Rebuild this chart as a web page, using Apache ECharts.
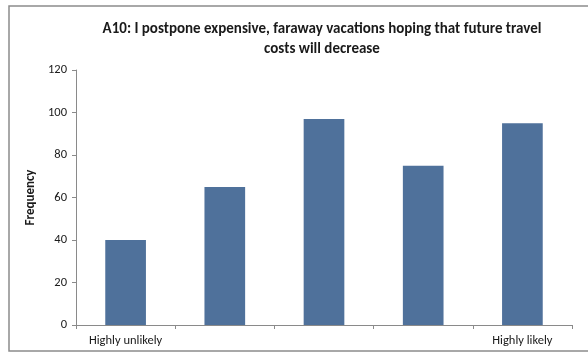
<!DOCTYPE html>
<html>
<head>
<meta charset="utf-8">
<script src="https://cdn.jsdelivr.net/npm/echarts@6/dist/echarts.min.js"></script>
<style>
  html, body { margin: 0; padding: 0; background: #fff; }
  #chart { width: 588px; height: 358px; }
</style>
</head>
<body>
<div id="chart"></div>
<script>
// Response scale categories (only the two ends are labelled)
const categories = ['Highly unlikely', '', '', '', 'Highly likely'];
// Number of respondents per scale point
const frequency = [40, 65, 97, 75, 95];
// Value axis ticks
const yTicks = [0, 20, 40, 60, 80, 100, 120];

const chart = echarts.init(document.getElementById('chart'), null, { renderer: 'canvas' });

const font = 'Calibri, Carlito, Lato, "Open Sans", sans-serif';

chart.setOption({
  animation: false,
  backgroundColor: '#ffffff',
  title: {
    text: 'A10: I postpone expensive, faraway vacations hoping that future travel\ncosts will decrease',
    left: 317,
    top: 14,
    textAlign: 'center',
    textStyle: {
      fontFamily: font,
      fontSize: 15,
      fontWeight: 'bold',
      color: '#1a1a1a',
      lineHeight: 20
    }
  },
  graphic: [{
    type: 'rect',
    shape: { x: 9, y: 6, width: 590, height: 345 },
    style: { fill: 'none', stroke: '#8c8c8c', lineWidth: 1.5 },
    silent: true,
    z: -1
  }],
  grid: { left: 76, right: 16, top: 70, bottom: 33 },
  xAxis: {
    type: 'category',
    data: categories,
    axisLine: { lineStyle: { color: '#8a8a8a', width: 1 } },
    axisTick: { show: true, alignWithLabel: false, length: 4, lineStyle: { color: '#8a8a8a' } },
    axisLabel: {
      interval: 0,
      margin: 9,
      fontFamily: font,
      fontSize: 12.5,
      color: '#1a1a1a'
    }
  },
  yAxis: {
    type: 'value',
    min: yTicks[0],
    max: yTicks[yTicks.length - 1],
    interval: yTicks[1] - yTicks[0],
    name: 'Frequency',
    nameLocation: 'middle',
    nameGap: 34,
    nameRotate: 90,
    nameTextStyle: {
      fontFamily: font,
      fontSize: 13,
      fontWeight: 'bold',
      color: '#1a1a1a'
    },
    axisLine: { show: true, lineStyle: { color: '#8a8a8a', width: 1 } },
    axisTick: { show: true, length: 4, lineStyle: { color: '#8a8a8a' } },
    axisLabel: {
      margin: 9,
      fontFamily: font,
      fontSize: 12.5,
      color: '#1a1a1a'
    },
    splitLine: { show: false }
  },
  series: [{
    type: 'bar',
    data: frequency,
    barWidth: '41%',
    itemStyle: { color: '#4F719B' }
  }]
});
</script>
</body>
</html>
